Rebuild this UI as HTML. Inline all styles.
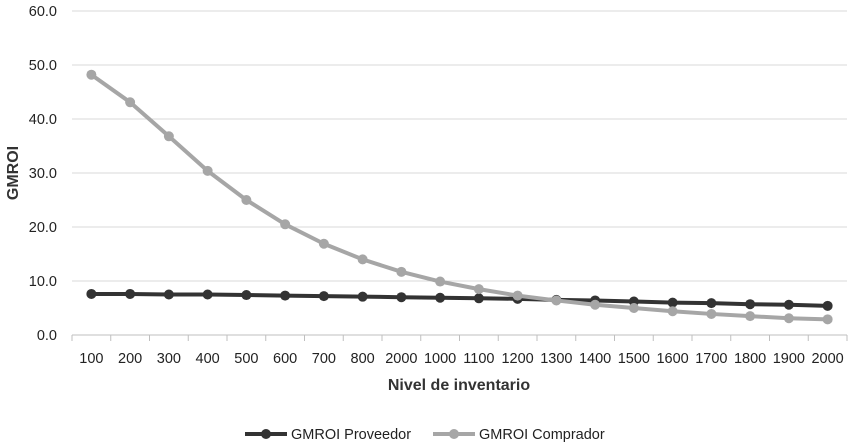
<!DOCTYPE html>
<html><head><meta charset="utf-8"><style>
html,body{margin:0;padding:0;background:#fff;}
svg{display:block;font-family:"Liberation Sans",sans-serif;}
</style></head><body>
<svg id="c" width="856" height="444" xmlns="http://www.w3.org/2000/svg"></svg>
<script>
const s=document.getElementById('c');
let h='';
const x0=72,cw=38.75,y0=335,k=5.4;
for(let i=0;i<=6;i++){const y=y0-i*54;h+=`<line x1="${x0}" x2="${x0+20*cw}" y1="${y}" y2="${y}" stroke="#d9d9d9" stroke-width="1"/>`;
h+=`<text x="57" y="${y+5}" text-anchor="end" font-size="14.5" fill="#222">${(i*10).toFixed(1)}</text>`;}
h+=`<line x1="${x0}" x2="${x0+20*cw}" y1="${y0}" y2="${y0}" stroke="#bfbfbf"/>`;
for(let i=0;i<=20;i++){const x=x0+i*cw;h+=`<line x1="${x}" x2="${x}" y1="${y0}" y2="${y0+6}" stroke="#bfbfbf"/>`;}
const labs=[100,200,300,400,500,600,700,800,2000,1000,1100,1200,1300,1400,1500,1600,1700,1800,1900,2000];
labs.forEach((l,i)=>{h+=`<text x="${x0+(i+.5)*cw}" y="363" text-anchor="middle" font-size="14.5" fill="#222">${l}</text>`;});
const comp=[48.2,43.1,36.8,30.4,25.0,20.5,16.9,14.0,11.7,9.9,8.5,7.3,6.4,5.6,5.0,4.4,3.9,3.5,3.1,2.9];
const prov=[7.6,7.6,7.5,7.5,7.4,7.3,7.2,7.1,7.0,6.9,6.8,6.7,6.5,6.4,6.2,6.0,5.9,5.7,5.6,5.4];
function ser(d,c){const p=d.map((v,i)=>[x0+(i+.5)*cw,y0-v*k]);
let r=`<polyline points="${p.map(q=>q.join(',')).join(' ')}" fill="none" stroke="${c}" stroke-width="4" stroke-linejoin="round"/>`;
p.forEach(q=>r+=`<circle cx="${q[0]}" cy="${q[1]}" r="5" fill="${c}"/>`);return r;}
h+=ser(prov,'#333333');h+=ser(comp,'#a6a6a6');
h+=`<text x="459" y="390" text-anchor="middle" font-size="16" font-weight="bold" fill="#333">Nivel de inventario</text>`;
h+=`<text transform="translate(18,173) rotate(-90)" text-anchor="middle" font-size="16" font-weight="bold" fill="#333">GMROI</text>`;
h+=`<line x1="245" x2="287" y1="434" y2="434" stroke="#333" stroke-width="4"/><circle cx="266" cy="434" r="5" fill="#333"/>`;
h+=`<text x="291" y="439" font-size="14.5" fill="#222">GMROI Proveedor</text>`;
h+=`<line x1="433" x2="475" y1="434" y2="434" stroke="#a6a6a6" stroke-width="4"/><circle cx="454" cy="434" r="5" fill="#a6a6a6"/>`;
h+=`<text x="479" y="439" font-size="14.5" fill="#222">GMROI Comprador</text>`;
s.innerHTML=h;
</script>
</body></html>
